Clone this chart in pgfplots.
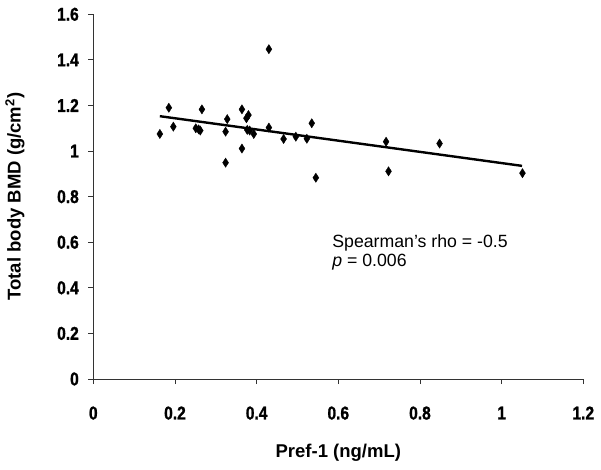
\documentclass[border=0pt]{standalone}
\usepackage{pgfplots}
\pgfplotsset{compat=1.18}
\usepackage{fontspec}
\setmainfont{Liberation Sans}
\newfontfamily\condbold[FakeStretch=0.84,FakeBold=1.2]{Liberation Sans Bold}
\newfontfamily\labbold{Liberation Sans Bold}
\newcommand\tkfont{\condbold\fontsize{18.5}{20}\selectfont}
\begin{document}
\begin{tikzpicture}
\path[use as bounding box] (-93.3pt,-91pt) rectangle (507.7pt,379pt);
\begin{axis}[
  at={(0,0)}, anchor=south west,
  scale only axis,
  width=490pt, height=364.7pt,
  xmin=0, xmax=1.2, ymin=0, ymax=1.6,
  axis lines*=left,
  axis line style={line width=0.8pt, black!80},
  xtick={0,0.2,...,1.2}, ytick={0,0.2,...,1.6},
  tick align=outside, tick pos=left,
  major tick length=5pt,
  tick style={line width=0.8pt, black!80},
  /pgf/number format/assume math mode=true,
  /pgf/number format/fixed,
  xticklabel={\tkfont\pgfmathprintnumber{\tick}},
  yticklabel={\tkfont\pgfmathprintnumber{\tick}},
  xticklabel style={yshift=-19pt},
  yticklabel style={xshift=-6pt},
  xlabel={Pref-1 (ng/mL)},
  ylabel={Total body BMD (g/cm\textsuperscript{2})},
  label style={font=\labbold\fontsize{18.5}{20}\selectfont},
  xlabel style={at={(axis description cs:0.5,-0.203)}, anchor=center},
  ylabel style={at={(axis description cs:-0.160,0.5)}, anchor=center},
  clip=false,
]
\addplot[only marks, mark=diamond*, mark size=4.6pt, mark options={xscale=0.85, fill=black, draw=black}] coordinates {
(0.163,1.075) (0.185,1.19) (0.196,1.107) (0.251,1.10) (0.258,1.095) (0.262,1.09)
(0.266,1.183) (0.328,1.14) (0.324,1.085) (0.324,0.949) (0.364,1.183)
(0.380,1.158) (0.375,1.144) (0.364,1.011) (0.377,1.093) (0.383,1.09) (0.393,1.075)
(0.430,1.447) (0.430,1.103) (0.466,1.053) (0.496,1.063) (0.523,1.054)
(0.535,1.122) (0.545,0.883) (0.717,1.041) (0.723,0.911) (0.848,1.033) (1.051,0.903)
};
\addplot[black, line width=2.4pt] coordinates {(0.163,1.153) (1.05,0.935)};
\node[anchor=west, font=\fontsize{17.7}{20}\selectfont, inner sep=0pt] at (axis cs:0.585,0.596) {Spearman’s rho = -0.5};
\node[anchor=west, font=\fontsize{17.7}{20}\selectfont, inner sep=0pt] at (axis cs:0.585,0.512) {\textit{p} = 0.006};
\end{axis}
\end{tikzpicture}
\end{document}
